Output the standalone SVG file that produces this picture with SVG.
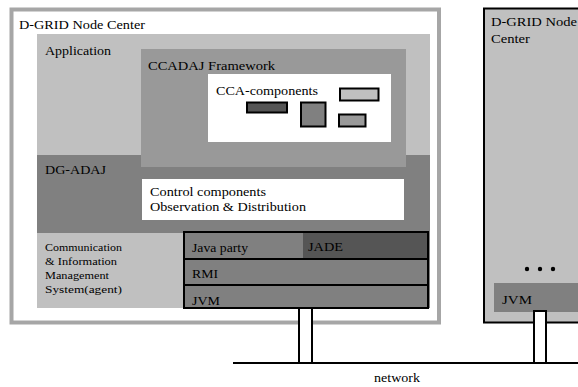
<svg xmlns="http://www.w3.org/2000/svg" width="578" height="387" viewBox="0 0 578 387">
  <style>
    text { font-family: "Liberation Serif", "Times New Roman", serif; font-size: 12px; fill: #000; }
    .small { font-size: 10px; }
    .box { stroke: #000; stroke-width: 2; }
    .conn { fill: #fff; stroke: #000; stroke-width: 2; }
    .line { fill: none; stroke: #000; stroke-width: 2; }
  </style>

  <!-- Left D-GRID node center -->
  <g id="node-center-1">
    <rect x="11.5" y="9.5" width="427.5" height="313" fill="#fff" stroke="#a6a6a6" stroke-width="4"/>
    <text x="19" y="28.5" textLength="126" lengthAdjust="spacingAndGlyphs">D-GRID Node Center</text>
  </g>

  <g id="application">
    <rect x="37" y="34" width="393" height="121" fill="#c0c0c0"/>
    <text x="45" y="54.5" textLength="66" lengthAdjust="spacingAndGlyphs">Application</text>
  </g>

  <g id="dg-adaj">
    <rect x="37" y="155" width="393" height="153" fill="#808080"/>
    <text x="45" y="174" textLength="61" lengthAdjust="spacingAndGlyphs">DG-ADAJ</text>
  </g>

  <g id="ccadaj-framework">
    <rect x="141" y="49" width="265" height="118" fill="#999"/>
    <text x="148" y="70" textLength="127" lengthAdjust="spacingAndGlyphs">CCADAJ Framework</text>
  </g>

  <g id="cca-components">
    <rect x="208" y="74" width="183" height="68" fill="#fff"/>
    <text x="216" y="95" textLength="102" lengthAdjust="spacingAndGlyphs">CCA-components</text>
    <rect class="box" x="247" y="102.5" width="40" height="10" fill="#555"/>
    <rect class="box" x="301" y="102.5" width="24.5" height="24" fill="#808080"/>
    <rect class="box" x="340" y="88.5" width="38.5" height="12" fill="#c0c0c0"/>
    <rect class="box" x="339" y="114.5" width="26.5" height="12" fill="#999"/>
  </g>

  <g id="control-components">
    <rect x="142" y="179" width="262" height="41" fill="#fff"/>
    <text x="150" y="196" textLength="116" lengthAdjust="spacingAndGlyphs">Control components</text>
    <text x="150" y="211" textLength="156" lengthAdjust="spacingAndGlyphs">Observation &amp; Distribution</text>
  </g>

  <g id="communication-system">
    <rect x="37" y="233" width="146" height="75" fill="#c0c0c0"/>
    <text class="small" x="45" y="251" textLength="77" lengthAdjust="spacingAndGlyphs">Communication</text>
    <text class="small" x="45" y="265" textLength="72" lengthAdjust="spacingAndGlyphs">&amp; Information</text>
    <text class="small" x="45" y="279" textLength="64" lengthAdjust="spacingAndGlyphs">Management</text>
    <text class="small" x="45" y="293" textLength="77" lengthAdjust="spacingAndGlyphs">System(agent)</text>
  </g>

  <g id="java-stack">
    <rect x="184" y="232" width="244" height="76" fill="#808080"/>
    <rect x="303" y="232" width="125" height="27" fill="#555"/>
    <rect class="line" x="184" y="232" width="244" height="76"/>
    <line class="line" x1="184" y1="259" x2="428" y2="259"/>
    <line class="line" x1="184" y1="285" x2="428" y2="285"/>
    <text x="192" y="251.5" textLength="56" lengthAdjust="spacingAndGlyphs">Java party</text>
    <text x="308" y="251" textLength="35" lengthAdjust="spacingAndGlyphs">JADE</text>
    <text x="192" y="278" textLength="26" lengthAdjust="spacingAndGlyphs">RMI</text>
    <text x="192" y="304.5" textLength="28" lengthAdjust="spacingAndGlyphs">JVM</text>
  </g>

  <!-- Right D-GRID node center (partly outside the view) -->
  <g id="node-center-2">
    <rect class="box" x="484" y="8.5" width="110" height="314" fill="#c0c0c0"/>
    <text x="491" y="26" textLength="86" lengthAdjust="spacingAndGlyphs">D-GRID Node</text>
    <text x="491" y="43" textLength="39" lengthAdjust="spacingAndGlyphs">Center</text>
    <circle cx="527" cy="269" r="2.2" fill="#000"/>
    <circle cx="540" cy="269" r="2.2" fill="#000"/>
    <circle cx="553" cy="269" r="2.2" fill="#000"/>
    <rect x="494" y="283" width="90" height="29" fill="#808080"/>
    <text x="502" y="303.5" textLength="30" lengthAdjust="spacingAndGlyphs">JVM</text>
  </g>

  <!-- Network bus and the links from each JVM -->
  <g id="connectors">
    <rect class="conn" x="299" y="308" width="13" height="55"/>
    <rect class="conn" x="534" y="311" width="12" height="52"/>
    <line class="line" x1="233" y1="363" x2="578" y2="363"/>
  </g>

  <g id="network-label">
    <text x="374" y="382" textLength="46" lengthAdjust="spacingAndGlyphs">network</text>
  </g>
</svg>
